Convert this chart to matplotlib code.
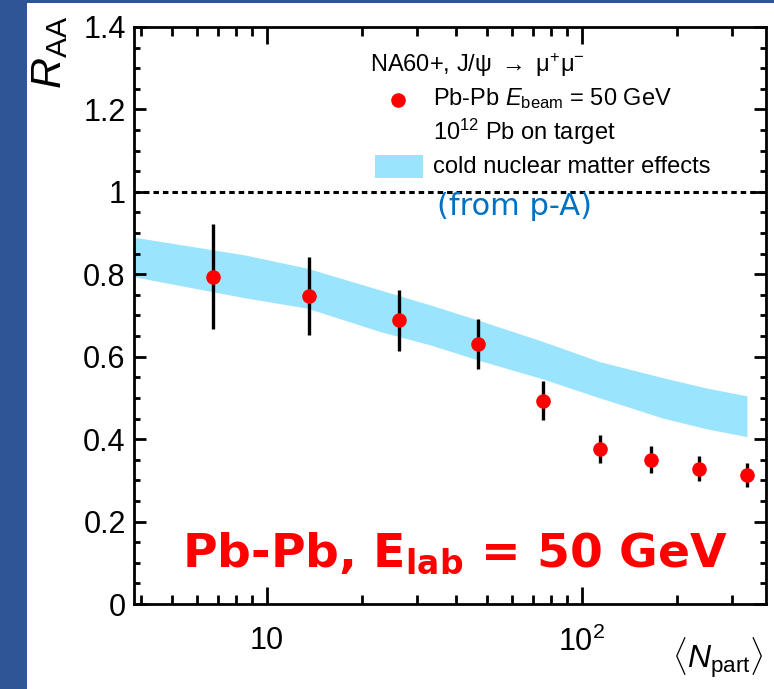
import matplotlib
matplotlib.use("Agg")
import matplotlib.pyplot as plt
from matplotlib.patches import Rectangle
from matplotlib.ticker import FixedLocator, NullFormatter

plt.rcParams['font.family'] = ['Liberation Sans', 'DejaVu Sans']
plt.rcParams['mathtext.fontset'] = 'custom'
plt.rcParams['mathtext.rm'] = 'Liberation Sans'
plt.rcParams['mathtext.it'] = 'Liberation Sans:italic'
plt.rcParams['mathtext.bf'] = 'Liberation Sans:bold'

# ---- data ----
npart = [6.74, 13.6, 26.2, 46.8, 75.2, 114, 166, 235, 334]
raa = [0.794, 0.748, 0.689, 0.631, 0.493, 0.376, 0.350, 0.328, 0.313]
raa_err = [0.127, 0.095, 0.074, 0.061, 0.047, 0.035, 0.033, 0.030, 0.028]

band_x = [3.79, 8.51, 13.4, 22.9, 32.9, 46.8, 75.2, 114, 181, 249, 334]
band_hi = [0.890, 0.847, 0.815, 0.762, 0.726, 0.689, 0.637, 0.588, 0.549, 0.524, 0.505]
band_lo = [0.794, 0.743, 0.718, 0.661, 0.629, 0.592, 0.546, 0.500, 0.451, 0.425, 0.406]

yticks = [0, 0.2, 0.4, 0.6, 0.8, 1.0, 1.2, 1.4]
ytick_labels = ["0", "0.2", "0.4", "0.6", "0.8", "1", "1.2", "1.4"]
xticks = [10, 100]
xtick_labels = ["10", r"10$^{2}$"]

W, H = 774, 689
fig = plt.figure(figsize=(W / 100, H / 100), dpi=100)
fig.patch.set_facecolor('#2f5597')
fig.patches.append(Rectangle((27 / W, 0), 1 - 27 / W, 1 - 3 / H, transform=fig.transFigure,
                             facecolor='white', edgecolor='none', zorder=-5))

ax = fig.add_axes([134 / W, 1 - 604 / H, (766 - 134) / W, (604 - 27) / H])
ax.set_zorder(1)
ax.set_xscale('log')
ax.set_xlim(3.79, 384)
ax.set_ylim(0, 1.4)

ax.fill_between(band_x, band_lo, band_hi, color='#9be4fd', linewidth=0, zorder=1)
ax.axhline(1.0, color='black', lw=2.2, ls=(0, (1.8, 1.3)), zorder=2)
ax.errorbar(npart, raa, yerr=raa_err, fmt='none', ecolor='black', elinewidth=2.4,
            capsize=0, zorder=4)
ax.plot(npart, raa, 'o', color='#ff0000', markersize=10.5, markeredgewidth=0, zorder=5)

# axes style
for s in ax.spines.values():
    s.set_linewidth(2.0)
ax.set_yticks(yticks)
ax.set_yticklabels(ytick_labels)
ax.yaxis.set_minor_locator(FixedLocator([i * 0.05 for i in range(29)]))
ax.set_xticks(xticks)
ax.set_xticklabels(xtick_labels)
minors = [v * d for d in (1, 10, 100) for v in range(2, 10) if 3.79 <= v * d <= 384]
ax.xaxis.set_minor_locator(FixedLocator(minors))
ax.xaxis.set_minor_formatter(NullFormatter())
ax.tick_params(axis='both', which='both', direction='in', top=True, right=True,
               width=2.0, labelsize=22, colors='black')
ax.tick_params(axis='x', which='major', length=12.5, pad=16)
ax.tick_params(axis='x', which='minor', length=6.3)
ax.tick_params(axis='y', which='major', length=8.6, pad=6)
ax.tick_params(axis='y', which='minor', length=4.3)

# axis titles
fig.text(50 / W, 1 - 16 / H, r"$R_{\rm AA}$", rotation=90, ha='center', va='top', fontsize=31)
fig.text(764 / W, 1 - 668 / H, r"$\langle N_{\rm part}\rangle$", ha='right', va='baseline',
         fontsize=23)

# legend (manual)
def axf(px, py):
    return ((px - 134) / 632, (604 - py) / 577)

ax.text(*axf(370, 72), r"NA60+, J/ψ $\rightarrow$ μ$^{+}$μ$^{-}$", transform=ax.transAxes,
        fontsize=17, ha='left', va='baseline')
ax.plot([axf(398, 100)[0]], [axf(398, 100)[1]], 'o', color='#ff0000', markersize=10.5,
        markeredgewidth=0, transform=ax.transAxes, clip_on=False)
ax.text(*axf(433, 105), r"Pb-Pb $E_{\rm beam}$ = 50 GeV", transform=ax.transAxes,
        fontsize=17, ha='left', va='baseline')
ax.text(*axf(433, 140), r"10$^{12}$ Pb on target", transform=ax.transAxes,
        fontsize=17, ha='left', va='baseline')
p0 = axf(375, 178)
p1 = axf(423, 155)
ax.add_patch(Rectangle(p0, p1[0] - p0[0], p1[1] - p0[1], transform=ax.transAxes,
                       facecolor='#9be4fd', edgecolor='none'))
ax.text(*axf(433, 173), "cold nuclear matter effects", transform=ax.transAxes,
        fontsize=17, ha='left', va='baseline')
ax.text(*axf(437, 215), "(from p-A)", transform=ax.transAxes, fontsize=22,
        family='DejaVu Sans', color='#0070c0', ha='left', va='baseline')

ax.text(*axf(182, 567), r"Pb-Pb, E$_{\mathbf{lab}}$ = 50 GeV", transform=ax.transAxes,
        fontsize=34, family='DejaVu Sans', fontweight='bold', color='#ff0000',
        math_fontfamily='dejavusans', ha='left', va='baseline')

fig.savefig('out.png', dpi=100, facecolor=fig.get_facecolor())
